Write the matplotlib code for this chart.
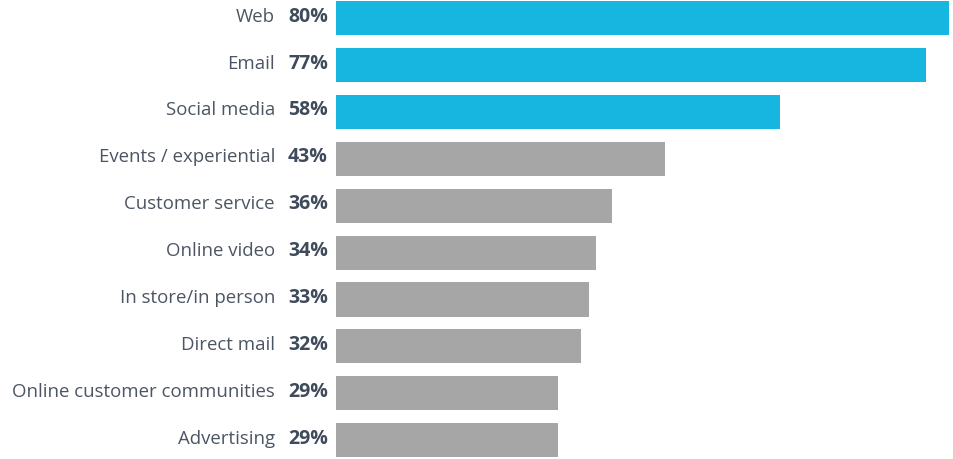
import matplotlib.pyplot as plt

# Channel usage (%)
categories = ["Web", "Email", "Social media", "Events / experiential",
              "Customer service", "Online video", "In store/in person",
              "Direct mail", "Online customer communities", "Advertising"]
values = [80, 77, 58, 43, 36, 34, 33, 32, 29, 29]
highlight = [True, True, True, False, False, False, False, False, False, False]

BLUE = "#17b6e0"
GREY = "#a6a6a6"
TEXT = "#3f4a5a"

plt.rcParams['font.family'] = ['Open Sans', 'DejaVu Sans']

fig = plt.figure(figsize=(9.54, 4.59), dpi=100)
ax = fig.add_axes([336 / 954, 0, (948.5 - 336) / 954, 1])

y = list(range(len(categories)))
colors = [BLUE if h else GREY for h in highlight]
ax.barh(y, values, height=0.725, color=colors)

ax.set_xlim(0, 80)
ax.set_ylim(9.40, -0.384)

px = 80 / (948.5 - 336)  # data units per pixel
for i, (cat, v) in enumerate(zip(categories, values)):
    ax.text(-8 * px, i - 0.03, f"{v}%", ha="right", va="center", fontsize=14,
            fontweight="bold", color=TEXT, clip_on=False)
    ax.text(-61 * px, i - 0.03, cat, ha="right", va="center", fontsize=13.4,
            fontweight="normal", color="#4b5563", clip_on=False)

ax.axis("off")
fig.savefig("out.png", dpi=100)
